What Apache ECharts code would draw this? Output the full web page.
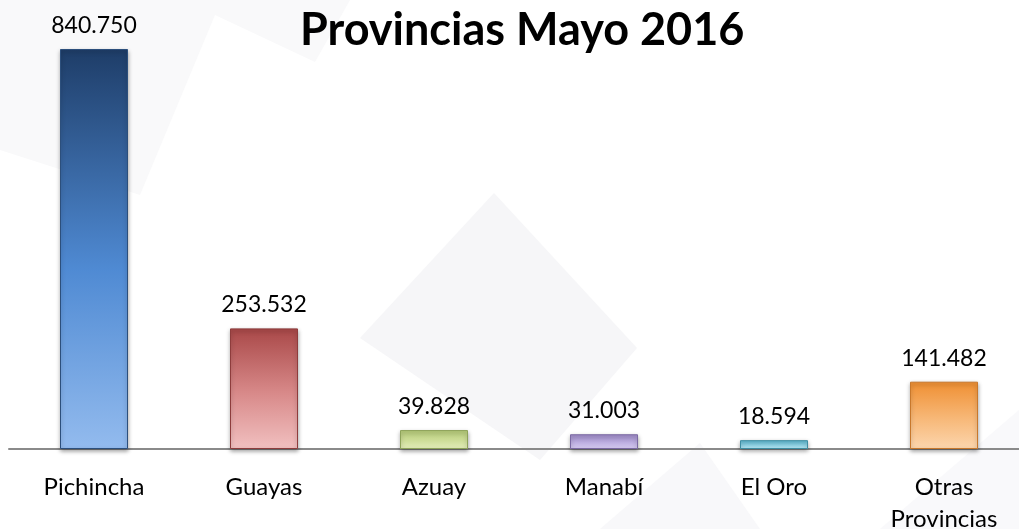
<!DOCTYPE html>
<html>
<head>
<meta charset="utf-8">
<title>Provincias Mayo 2016</title>
<script src="https://cdn.jsdelivr.net/npm/echarts@6/dist/echarts.min.js"></script>
<style>
    html, body { margin: 0; padding: 0; background: #ffffff; }
    #main { width: 1019px; height: 529px; }
</style>
</head>
<body>
<div id="main"></div>
<script>
// datos del grafico
var provincias = ['Pichincha', 'Guayas', 'Azuay', 'Manabí', 'El Oro', 'Otras\nProvincias'];
var valores = [840750, 253532, 39828, 31003, 18594, 141482];

// colores de cada barra: arriba, medio, abajo, borde
var coloresBarra = [
    ['#1e3d68', '#4f8ad3', '#93bbee', '#2c4f7c'],
    ['#a94848', '#d98b8b', '#f1c0c0', '#8e3c3c'],
    ['#b4c977', '#cddd98', '#e4eebb', '#8ea35a'],
    ['#9c88c6', '#bcaee0', '#d8cdf2', '#7b6aa3'],
    ['#55b0c8', '#8ed3e6', '#bdeaf5', '#3f8ea3'],
    ['#ef8f32', '#f7b878', '#fcd6ae', '#c8782c']
];

// separador de miles con punto
function formatoMiles(v) {
    return String(v).replace(/\B(?=(\d{3})+(?!\d))/g, '.');
}

function getDatosBarras() {
    var datos = [];
    for (var i = 0; i < valores.length; i++) {
        var c = coloresBarra[i];
        datos.push({
            value: valores[i],
            itemStyle: {
                color: {
                    type: 'linear', x: 0, y: 0, x2: 0, y2: 1,
                    colorStops: [
                        { offset: 0, color: c[0] },
                        { offset: 0.55, color: c[1] },
                        { offset: 1, color: c[2] }
                    ]
                },
                borderColor: c[3],
                borderWidth: 1,
                shadowColor: 'rgba(0,0,0,0.35)',
                shadowBlur: 4,
                shadowOffsetY: 2
            }
        });
    }
    return datos;
}

var chart = echarts.init(document.getElementById('main'));

var option = {
    backgroundColor: '#ffffff',
    animation: false,
    textStyle: { fontFamily: 'Lato' },
    // figuras de fondo muy claras (marca de agua)
    graphic: [
        { type: 'polygon', z: -10, shape: { points: [[0, 0], [350, 0], [315, 62], [215, 15], [140, 195], [0, 150]] }, style: { fill: '#f9f9fa' } },
        { type: 'polygon', z: -10, shape: { points: [[494, 193], [637, 348], [540, 460], [360, 338]] }, style: { fill: '#f6f6f8' } },
        { type: 'polygon', z: -10, shape: { points: [[600, 529], [700, 443], [760, 529]] }, style: { fill: '#f8f8fa' } },
        { type: 'polygon', z: -10, shape: { points: [[880, 529], [1019, 410], [1019, 529]] }, style: { fill: '#f9f9fb' } }
    ],
    title: {
        text: 'Provincias Mayo 2016',
        left: 295,
        top: 3,
        textStyle: {
            fontFamily: 'Lato',
            fontSize: 45,
            fontWeight: 'bold',
            color: '#000000'
        }
    },
    grid: {
        left: 9,
        width: 1020,
        top: 49,
        bottom: 80,
        outerBoundsMode: 'none'
    },
    xAxis: {
        type: 'category',
        data: provincias,
        axisLine: { lineStyle: { color: '#8a8a8a', width: 2 } },
        axisTick: { show: false },
        axisLabel: {
            margin: 22,
            fontSize: 24,
            lineHeight: 32,
            color: '#000000',
            fontFamily: 'Lato',
            interval: 0
        }
    },
    yAxis: {
        type: 'value',
        min: 0,
        max: 840750,
        show: false
    },
    series: [{
        name: 'Provincias',
        type: 'bar',
        barWidth: 68,
        data: getDatosBarras(),
        label: {
            show: true,
            position: 'top',
            distance: 12,
            fontSize: 23,
            color: '#000000',
            fontFamily: 'Lato',
            formatter: function (p) {
                return formatoMiles(p.value);
            }
        }
    }]
};

chart.setOption(option);
</script>
</body>
</html>
